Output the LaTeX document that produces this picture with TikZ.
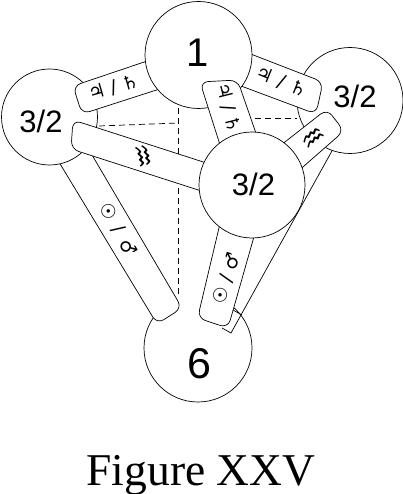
\documentclass[tikz,border=0pt]{standalone}
\usepackage{fontspec}
\setmainfont{Liberation Serif}
\newfontfamily\arialfont{Liberation Sans}
\newfontfamily\symfont{DejaVu Sans}
\begin{document}
\begin{tikzpicture}[x=1pt,y=-1pt,line width=0.7pt,
  ball/.style={circle,draw,fill=white,inner sep=0pt},
  barshape/.style={draw,fill=white,rounded corners=8pt},
  hidden/.style={dash pattern=on 6pt off 4pt},
  num/.style={font=\arialfont\fontsize{31}{31}\selectfont,inner sep=0pt},
  sig/.style={font=\symfont\fontsize{19}{19}\selectfont,inner sep=0pt},
  wave/.style={font=\symfont\fontsize{28}{28}\selectfont,inner sep=0pt}]
\useasboundingbox (0,0) rectangle (403,494);
% hidden (dashed) lines
\draw[hidden] (99,126) -- (178,123);
\draw[hidden] (178,108) -- (178,297);
\draw[hidden] (245,118) -- (297,118);
% right-bottom bar, seen edge-on
\coordinate (rbA) at (333,149);
\coordinate (rbB) at (231,333);
\coordinate (rbC) at (222,328);
\coordinate (rbD) at (242,315);
\coordinate (rbE) at (233,310);
\draw (rbA) -- (rbB) -- (rbC);
\draw (rbD) -- (rbE);
% bottom ball (upper part hidden)
\begin{scope}
  \clip (130,305) rectangle (270,420);
  \node[ball,fill=none,minimum size=108pt] (six) at (198,348) {};
\end{scope}
% bars to the bottom ball
\draw[barshape] (45.6,140) -- (74.4,125) -- (182,308) -- (157,324) -- cycle;
\draw[barshape] (225.6,200) -- (264.4,200) -- (228,328) -- (197.6,318) -- cycle;
% left ball and its bars
\node[ball,minimum size=96pt] (left) at (49.5,117) {};
\draw[barshape] (73,86) -- (165,55) -- (172,85) -- (82,114) -- cycle;
\draw[barshape] (73,120) -- (225,169) -- (220,197) -- (71,149) -- cycle;
% right ball and its bars
\node[ball,minimum size=106pt] (right) at (350,100.5) {};
\draw[barshape] (323,82) -- (230,46) -- (225,80) -- (316,114) -- cycle;
\draw[barshape] (327,109) -- (344,131) -- (280,187) -- (265,157.6) -- cycle;
% top ball
\node[ball,minimum size=107pt] (top) at (198.5,55) {};
\draw[barshape] (200,82) -- (237.5,80) -- (267,165) -- (228,170) -- cycle;
% middle ball
\node[ball,minimum size=106pt] (mid) at (252,185) {};
% ball numbers
\node[font=\arialfont\fontsize{40}{40}\selectfont,inner sep=0pt] (t1) at (198,52.5) {1};
\node[num] (tL) at (41,121) {3/2};
\node[num] (tR) at (355,96) {3/2};
\node[num] (tM) at (253.5,184) {3/2};
\node[font=\arialfont\fontsize{43}{43}\selectfont,inner sep=0pt] (t6) at (199.5,364) {6};
% bar signs
\node[sig,rotate=16] (s1) at (113.5,88) {♃\kern5.5pt/\kern5.5pt♄};
\node[sig,rotate=-22] (s3) at (282,82) {♃\kern6.5pt/\kern6.5pt♄};
\node[sig,rotate=-76] (s4) at (228,108) {♃\kern5pt/\kern5pt♄};
\node[wave,rotate=-75] (s2) at (142,157) {♒};
\node[wave,rotate=38] (s5) at (314,139) {♒};
\node[sig,rotate=-60] (s6) at (118,229.5) {☉\kern9pt/\kern9pt♂};
\node[sig,rotate=72] (s7) at (226.5,278.5) {☉\kern6pt/\kern6pt♂};
% caption
\node[anchor=base,font=\fontsize{45.5}{45.5}\selectfont,inner sep=0pt] (cap) at (201,485) {Figure XXV};
\end{tikzpicture}
\end{document}
